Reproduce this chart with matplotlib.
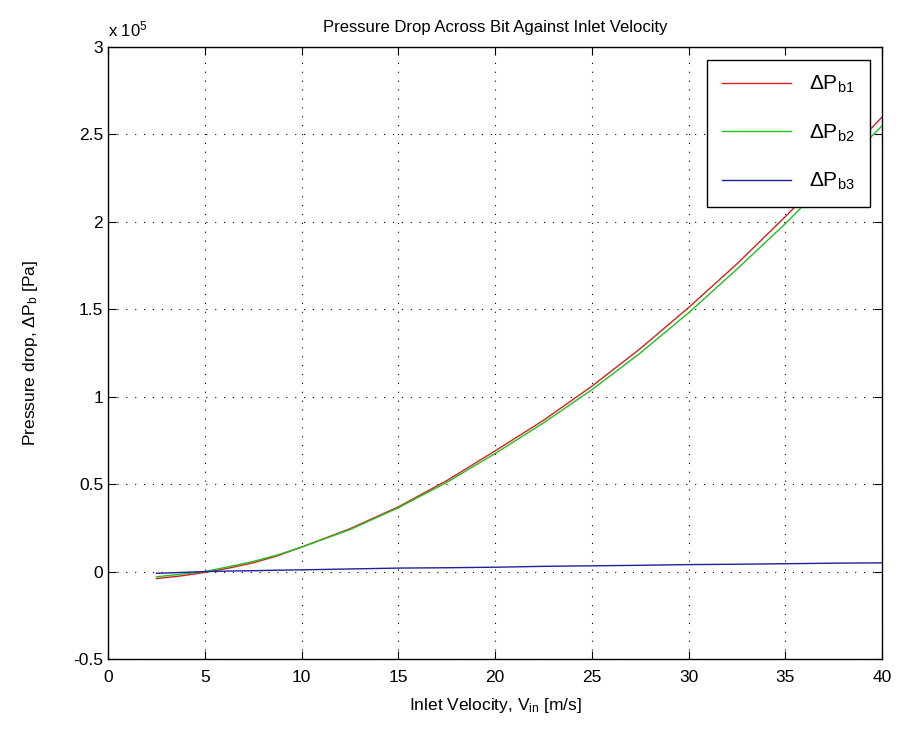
import numpy as np
import matplotlib.pyplot as plt
from matplotlib.ticker import FuncFormatter

plt.rcParams['font.family'] = ['Liberation Sans', 'DejaVu Sans']
plt.rcParams['mathtext.fontset'] = 'custom'
plt.rcParams['mathtext.rm'] = 'Liberation Sans'
plt.rcParams['mathtext.it'] = 'Liberation Sans'

# inlet velocity [m/s]
v_in = [2.5, 3.75, 5, 6.25, 7.5, 8.75, 10, 12.5, 15, 17.5, 20, 22.5, 25, 27.5, 30, 32.5, 35, 37.5, 40]

# pressure drop, in units of 1e5 Pa
dp_b1 = [-0.04, -0.025, -0.005, 0.02, 0.05, 0.09, 0.14, 0.245, 0.37, 0.52, 0.69, 0.865, 1.06, 1.275, 1.51, 1.76, 2.03, 2.31, 2.60]
dp_b2 = [-0.03, -0.015, 0.0, 0.028, 0.058, 0.095, 0.14, 0.24, 0.365, 0.51, 0.675, 0.85, 1.04, 1.25, 1.48, 1.73, 1.99, 2.27, 2.55]
dp_b3 = [-0.01, -0.005, 0.0, 0.003, 0.005, 0.008, 0.01, 0.015, 0.02, 0.022, 0.025, 0.03, 0.033, 0.036, 0.04, 0.042, 0.045, 0.048, 0.05]

fig = plt.figure(figsize=(8.98, 7.29), dpi=100)
ax = fig.add_axes([0.1203, 0.096, 0.862, 0.8395])

ax.plot(v_in, dp_b1, color='#d42020', linewidth=1.0, label=r'$\Delta$P$_{\rm b1}$')
ax.plot(v_in, dp_b2, color='#20c020', linewidth=1.0, label=r'$\Delta$P$_{\rm b2}$')
ax.plot(v_in, dp_b3, color='#20209a', linewidth=1.0, label=r'$\Delta$P$_{\rm b3}$')

ax.set_xlim(0, 40)
ax.set_ylim(-0.5, 3)
ax.set_xticks(np.arange(0, 41, 5))
ax.set_yticks(np.arange(-0.5, 3.01, 0.5))
ax.yaxis.set_major_formatter(FuncFormatter(lambda y, p: '%g' % round(y, 2)))

ax.grid(True, color='black', linestyle=(0, (1, 7)), linewidth=0.8)
ax.tick_params(direction='in', top=True, right=True, length=6, labelsize=12.5, colors='black')
ax.tick_params(axis='x', pad=8)
for s in ax.spines.values():
    s.set_linewidth(1.0)

ax.set_title('Pressure Drop Across Bit Against Inlet Velocity', fontsize=12, pad=11)
ax.set_xlabel(r'Inlet Velocity, V$_{\rm in}$ [m/s]', fontsize=12.5, labelpad=8)
ax.set_ylabel(r'Pressure drop, $\Delta$P$_{\rm b}$ [Pa]', fontsize=12.5, labelpad=24)
ax.text(0.0, 1.012, r'x 10$^5$', transform=ax.transAxes, fontsize=12, ha='left', va='bottom')

leg = ax.legend(loc='upper right', fontsize=15, handlelength=3.3, handletextpad=0.9,
                borderaxespad=0.6, fancybox=False, framealpha=1, edgecolor='black',
                labelspacing=1.3, borderpad=0.7)
leg.get_frame().set_linewidth(1.0)

fig.savefig('out.png', dpi=100)
